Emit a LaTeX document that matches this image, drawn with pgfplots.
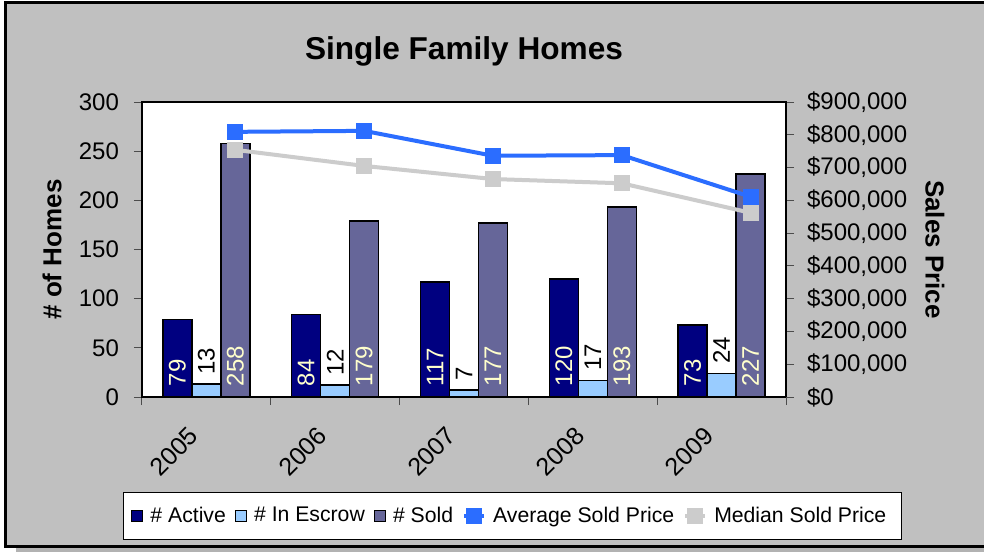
\documentclass[border=0pt]{standalone}
\usepackage{fontspec}
\setmainfont{Liberation Sans}
\usepackage{pgfplots}
\pgfplotsset{compat=1.18}

\definecolor{bgGray}{HTML}{C0C0C0}
\definecolor{activeC}{HTML}{000080}
\definecolor{escrowC}{HTML}{99CCFF}
\definecolor{soldC}{HTML}{666699}
\definecolor{avgC}{HTML}{2B6DFF}
\definecolor{medC}{HTML}{CCCCCC}
\definecolor{labelC}{HTML}{FFFFCC}

\newcommand{\tickfont}{\fontsize{12}{14}\selectfont}
\newcommand{\labfont}{\fontsize{13}{15}\selectfont\bfseries}

\pgfplotsset{
  /pgf/number format/assume math mode=true,
  homes/.style={
    width=322pt, height=147.5pt, scale only axis,
    at={(0,0)}, anchor=south west,
    xmin=-0.5, xmax=4.5,
    tick align=outside,
    major tick length=4pt, minor tick length=4pt,
    every tick/.style={black!70, line width=0.5pt},
    axis line style={black, line width=1pt},
    ticklabel style={font=\tickfont},
  },
  % bars are placed at their own x, so no bar shift is needed
  bars/.style={ybar, bar width=0.225, bar shift=0, draw=black, line width=0.75pt},
  barlab/.style={
    nodes near coords,
    visualization depends on=y \as \rawy,
    every node near coord/.append style={font=\tickfont, color=labelC,
      shift={(axis direction cs:0,-\rawy)}, yshift=3pt, rotate=90, anchor=west, inner sep=2pt},
  },
  toplab/.style={
    nodes near coords,
    every node near coord/.append style={font=\tickfont, color=black,
      yshift=2.5pt, rotate=90, anchor=west, inner sep=2pt},
  },
  barleg/.style={legend image code/.code={\draw[##1] (0pt,-2.75pt) rectangle (5.5pt,2.75pt);}},
  lineleg/.style={legend image code/.code={\draw[mark repeat=2, mark phase=2, ##1] plot coordinates {(0pt,0pt) (5pt,0pt) (10pt,0pt)};}},
}

\begin{document}
\begin{tikzpicture}
\path[use as bounding box] (-71pt,-77.5pt) rectangle (421pt,198.5pt);
\fill[white] (-71pt,-77.5pt) rectangle (421pt,198.5pt);
\fill[gray!60] (-63pt,-77.5pt) rectangle (425pt,-75.5pt);
\filldraw[fill=bgGray, draw=black, line width=1.5pt] (-68pt,-74.5pt) rectangle (430pt,197pt);

\begin{axis}[homes,
  axis background/.style={fill=white},
  ymin=0, ymax=300, ytick={0,50,...,300},
  xtick={0,1,2,3,4}, xticklabels={2005,2006,2007,2008,2009},
  minor xtick={-0.5,0.5,1.5,2.5,3.5,4.5},
  major x tick style={draw=none},
  xtick pos=bottom, ytick pos=left,
  xticklabel style={font=\fontsize{12.5}{14}\selectfont, xshift=-9.5pt, yshift=-10pt, rotate=45, anchor=north east, inner sep=0pt},
  yticklabel style={xshift=-4pt},
  ylabel={\# of Homes},
  ylabel style={font=\labfont, at={(axis description cs:-0.1398,0.5)}, rotate=0, anchor=center},
  title={Single Family Homes},
  title style={font=\fontsize{15.8}{18}\selectfont\bfseries, at={(axis description cs:0.5,1)}, anchor=center, yshift=19.5pt},
]
\addplot[bars, fill=activeC, barlab]
  coordinates {(-0.225,79) (0.775,84) (1.775,117) (2.775,120) (3.775,73)};
\addplot[bars, fill=escrowC, toplab]
  coordinates {(0,13) (1,12) (2,7) (3,17) (4,24)};
\addplot[bars, fill=soldC, barlab]
  coordinates {(0.225,258) (1.225,179) (2.225,177) (3.225,193) (4.225,227)};
\end{axis}

\begin{axis}[homes,
  axis x line=none, axis y line*=right,
  ymin=0, ymax=900000, ytick={0,100000,...,900000},
  scaled y ticks=false,
  yticklabels={\$0,{\$100,000},{\$200,000},{\$300,000},{\$400,000},{\$500,000},{\$600,000},{\$700,000},{\$800,000},{\$900,000}},
  yticklabel style={xshift=3pt},
  ylabel={Sales Price},
  ylabel style={font=\labfont, at={(axis description cs:1.2314,0.5)}, rotate=180, anchor=center},
  legend columns=-1,
  legend style={at={(0.575,-0.403)}, anchor=center, draw=black, fill=white,
    font=\fontsize{10.6}{12}\selectfont, inner xsep=4pt, inner ysep=5pt,
    nodes={inner xsep=3.5pt},
    /tikz/every even column/.append style={column sep=1pt}},
]
\addlegendimage{barleg, fill=activeC, draw=black, line width=0.6pt}
\addlegendentry{\# Active}
\addlegendimage{barleg, fill=escrowC, draw=black, line width=0.6pt}
\addlegendentry{\# In Escrow}
\addlegendimage{barleg, fill=soldC, draw=black, line width=0.6pt}
\addlegendentry{\# Sold}
\addplot[lineleg, avgC, line width=2pt, mark=square*, mark size=3pt]
  coordinates {(0.225,809000) (1.225,812000) (2.225,736000) (3.225,738000) (4.225,611000)};
\addlegendentry{Average Sold Price}
\addplot[lineleg, medC, line width=2pt, mark=square*, mark size=3pt]
  coordinates {(0.225,754000) (1.225,705000) (2.225,665000) (3.225,652000) (4.225,562000)};
\addlegendentry{Median Sold Price}
\end{axis}
\end{tikzpicture}
\end{document}
